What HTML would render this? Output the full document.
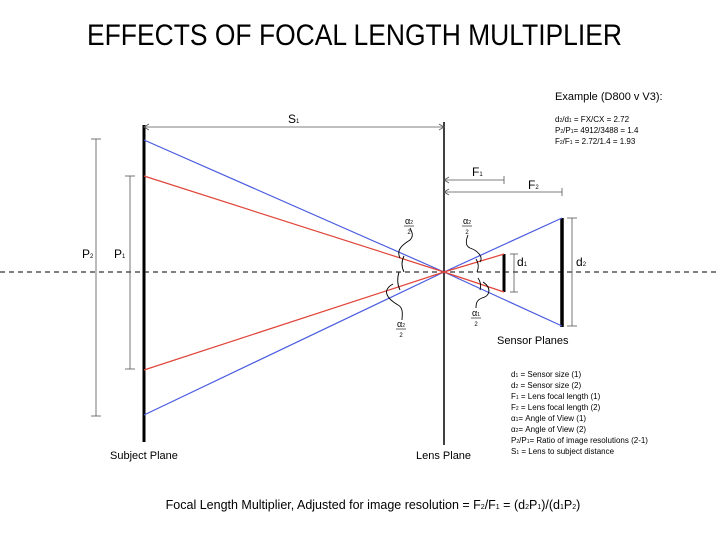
<!DOCTYPE html>
<html><head><meta charset="utf-8"><style>
body{margin:0;background:#fff;}
svg{display:block;font-family:"Liberation Sans",sans-serif;}
</style></head><body>
<svg width="720" height="540" viewBox="0 0 720 540">
<text x="87" y="45" font-size="30" textLength="535" lengthAdjust="spacingAndGlyphs" fill="#000">EFFECTS OF FOCAL LENGTH MULTIPLIER</text>
<line x1="0" y1="272" x2="720" y2="272" stroke="#000" stroke-dasharray="5,4" stroke-width="1"/>
<line x1="144" y1="125" x2="144" y2="442" stroke="#000" stroke-width="3"/>
<line x1="444" y1="122" x2="444" y2="445" stroke="#000" stroke-width="1.5"/>
<line x1="504" y1="254" x2="504" y2="292" stroke="#000" stroke-width="3"/>
<line x1="562" y1="218" x2="562" y2="327" stroke="#000" stroke-width="3.5"/>
<g stroke="#4a5ce0" stroke-width="1.2" fill="none">
<line x1="144" y1="140" x2="444" y2="272"/><line x1="144" y1="415" x2="444" y2="272"/>
<line x1="444" y1="272" x2="562" y2="218"/><line x1="444" y1="272" x2="562" y2="326"/>
</g>
<g stroke="#e0453a" stroke-width="1.2" fill="none">
<line x1="144" y1="176" x2="444" y2="272"/><line x1="144" y1="370" x2="444" y2="272"/>
<line x1="444" y1="272" x2="504" y2="254"/><line x1="444" y1="272" x2="504" y2="292"/>
</g>
<g stroke="#555" stroke-width="0.8" fill="none">
<line x1="96" y1="139" x2="96" y2="416"/><line x1="91" y1="139" x2="101" y2="139"/><line x1="91" y1="416" x2="101" y2="416"/>
<line x1="130" y1="176" x2="130" y2="369"/><line x1="125" y1="176" x2="135" y2="176"/><line x1="125" y1="369" x2="135" y2="369"/>
<line x1="144" y1="127" x2="444" y2="127"/><path d="M149,124 L144,127 L149,130 M439,124 L444,127 L439,130"/>
<line x1="444" y1="180" x2="504" y2="180"/><line x1="504" y1="176" x2="504" y2="184"/><path d="M449,177 L444,180 L449,183"/>
<line x1="444" y1="192" x2="562" y2="192"/><line x1="562" y1="188" x2="562" y2="196"/><path d="M449,189 L444,192 L449,195"/>
<line x1="514" y1="254" x2="514" y2="292"/><line x1="510" y1="254" x2="518" y2="254"/><line x1="510" y1="292" x2="518" y2="292"/>
<line x1="572" y1="218" x2="572" y2="326"/><line x1="567" y1="218" x2="577" y2="218"/><line x1="567" y1="326" x2="577" y2="326"/>
</g>
<g stroke="#000" stroke-width="0.9" fill="none">
<path d="M404,256 Q400,264 404,272"/><path d="M400,258 C396,250 402,245 410,240 C414,236 412,232 410,228"/>
<path d="M399,272 Q396,282 400,290"/><path d="M393,284 C382,290 386,298 398,305 C404,308 402,316 402,320"/>
<path d="M476,259 Q480,265 477,272"/><path d="M480,262 C484,256 476,250 470,248 C465,246 466,240 468,235"/>
<path d="M478,278 Q482,284 480,290"/><path d="M483,282 C492,288 490,296 482,298 C476,300 476,305 476,308"/>
</g>
<g font-size="9" text-anchor="middle">
<text x="409" y="224">α<tspan font-size="5">2</tspan></text><line x1="404" y1="226" x2="414" y2="226" stroke="#000" stroke-width="0.6"/><text x="409" y="234" font-size="6">2</text>
<text x="401" y="327">α<tspan font-size="5">2</tspan></text><line x1="396" y1="329" x2="406" y2="329" stroke="#000" stroke-width="0.6"/><text x="401" y="337" font-size="6">2</text>
<text x="467" y="224">α<tspan font-size="5">2</tspan></text><line x1="462" y1="226" x2="472" y2="226" stroke="#000" stroke-width="0.6"/><text x="467" y="234" font-size="6">2</text>
<text x="476" y="316">α<tspan font-size="5">1</tspan></text><line x1="471" y1="318" x2="481" y2="318" stroke="#000" stroke-width="0.6"/><text x="476" y="326" font-size="6">2</text>
</g>
<g font-size="12" fill="#000">
<text x="288" y="123">S<tspan font-size="6">1</tspan></text>
<text x="472" y="176">F<tspan font-size="6">1</tspan></text>
<text x="528" y="189">F<tspan font-size="6">2</tspan></text>
<text x="82" y="258">P<tspan font-size="6">2</tspan></text>
<text x="114" y="258">P<tspan font-size="6">1</tspan></text>
<text x="517" y="266">d<tspan font-size="6">1</tspan></text>
<text x="576" y="266">d<tspan font-size="6">2</tspan></text>
</g>
<g font-size="11" fill="#000">
<text x="110" y="459">Subject Plane</text>
<text x="416" y="459">Lens Plane</text>
<text x="497" y="344">Sensor Planes</text>
<text x="555" y="100">Example (D800 v V3):</text>
</g>
<g font-size="8" fill="#000">
<text x="555" y="122">d<tspan font-size="5">2</tspan>/d<tspan font-size="5">1</tspan> = FX/CX = 2.72</text>
<text x="555" y="133">P<tspan font-size="5">2</tspan>/P<tspan font-size="5">1</tspan>= 4912/3488 = 1.4</text>
<text x="555" y="144">F<tspan font-size="5">2</tspan>/F<tspan font-size="5">1</tspan> = 2.72/1.4 = 1.93</text>
<text x="511" y="377">d<tspan font-size="5">1</tspan> = Sensor size (1)</text>
<text x="511" y="388">d<tspan font-size="5">2</tspan> = Sensor size (2)</text>
<text x="511" y="399">F<tspan font-size="5">1</tspan> = Lens focal length (1)</text>
<text x="511" y="410">F<tspan font-size="5">2</tspan> = Lens focal length (2)</text>
<text x="511" y="421">α<tspan font-size="5">1</tspan>= Angle of View (1)</text>
<text x="511" y="432">α<tspan font-size="5">2</tspan>= Angle of View (2)</text>
<text x="511" y="443">P<tspan font-size="5">2</tspan>/P<tspan font-size="5">1</tspan>= Ratio of image resolutions (2-1)</text>
<text x="511" y="454">S<tspan font-size="5">1</tspan> = Lens to subject distance</text>
</g>
<text x="373" y="509" font-size="12.5" text-anchor="middle">Focal Length Multiplier, Adjusted for image resolution = F<tspan font-size="7">2</tspan>/F<tspan font-size="7">1</tspan> = (d<tspan font-size="7">2</tspan>P<tspan font-size="7">1</tspan>)/(d<tspan font-size="7">1</tspan>P<tspan font-size="7">2</tspan>)</text>
</svg>
</body></html>
